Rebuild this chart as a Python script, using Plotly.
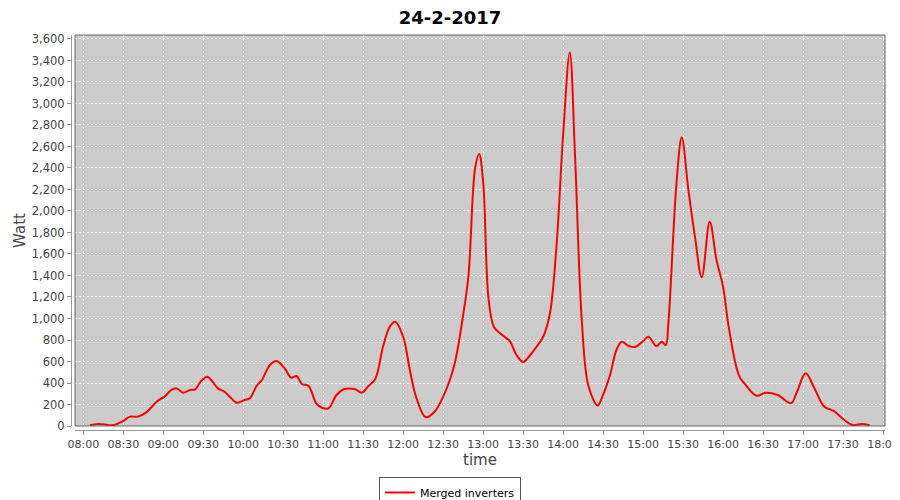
import plotly.graph_objects as go

title_text = "24-2-2017"
series_name = "Merged inverters"

times = [
    "08:05", "08:11", "08:15", "08:22", "08:29", "08:35", "08:41", "08:47", "08:56",
    "09:01", "09:06", "09:10", "09:15", "09:20", "09:24", "09:28", "09:33", "09:37",
    "09:41", "09:46", "09:51", "09:55", "10:01", "10:05", "10:10", "10:14", "10:20",
    "10:25", "10:31", "10:36", "10:40", "10:44", "10:49", "10:55", "10:59", "11:04",
    "11:10", "11:16", "11:24", "11:29", "11:34", "11:39", "11:45", "11:50", "11:54",
    "12:00", "12:05", "12:10", "12:17", "12:24", "12:30", "12:35", "12:39", "12:45",
    "12:49", "12:54", "12:57", "13:00", "13:04", "13:08", "13:12", "13:16", "13:20",
    "13:25", "13:30", "13:34", "13:40", "13:45", "13:50", "13:55", "14:00", "14:05",
    "14:09", "14:14", "14:19", "14:26", "14:29", "14:35", "14:40", "14:44", "14:49",
    "14:54", "15:00", "15:04", "15:10", "15:14", "15:17", "15:19", "15:25", "15:29",
    "15:34", "15:39", "15:44", "15:50", "15:55", "16:00", "16:04", "16:10", "16:13",
    "16:16", "16:25", "16:32", "16:41", "16:51", "16:55", "17:02", "17:08", "17:16",
    "17:23", "17:31", "17:37", "17:44", "17:50",
]
watts = [
    6, 19, 16, 7, 40, 87, 87, 124, 236,
    273, 335, 350, 310, 335, 341, 412, 459, 412,
    350, 319, 258, 217, 242, 258, 372, 428, 567,
    604, 537, 449, 465, 391, 372, 205, 170, 164,
    288, 344, 341, 310, 372, 434, 744, 924, 970,
    830, 521, 258, 81, 140, 273, 428, 598, 1032,
    1400, 2400, 2530, 2272, 1190, 923, 870, 830, 790,
    660, 595, 640, 737, 830, 1040, 1668, 2706, 3475,
    2495, 986, 372, 190, 260, 465, 707, 784, 745,
    735, 790, 830, 744, 784, 753, 960, 2250, 2685,
    2195, 1755, 1383, 1900, 1550, 1296, 940, 546, 443,
    397, 282, 310, 288, 211, 304, 490, 366, 180,
    140, 56, 9, 19, 7,
]

date_prefix = "2017-02-24 "
x_vals = [date_prefix + t for t in times]

fig = go.Figure()
fig.add_trace(go.Scatter(
    x=x_vals, y=watts, mode="lines", name=series_name,
    line=dict(color="#ff0000", width=2, shape="spline", smoothing=1.0),
    showlegend=True,
))

# the page body adds an 8px offset, so the figure is 892x492
fig_w, fig_h = 892, 492
m_l, m_r, m_t, m_b = 63, 15, 27, 70
paper_w = float(fig_w - m_l - m_r)
paper_h = float(fig_h - m_t - m_b)
gap = 4.0
grid_col = "rgba(255,255,255,0.8)"

fig.update_layout(
    width=fig_w, height=fig_h,
    margin=dict(l=m_l, r=m_r, t=m_t, b=m_b, autoexpand=False),
    paper_bgcolor="white",
    plot_bgcolor="#cccccc",
    font=dict(family="DejaVu Sans", size=12, color="#444444"),
    title=dict(text="<b>" + title_text + "</b>", x=(450 - 8) / fig_w, xref="container",
               xanchor="center", y=1.0, yanchor="top", pad=dict(t=3),
               font=dict(family="DejaVu Sans", size=18, color="#000000")),
    xaxis=dict(
        type="date",
        domain=[gap / paper_w, 1],
        anchor="free", position=0,
        range=[date_prefix + "07:53:47", date_prefix + "18:01:30"],
        tick0=date_prefix + "08:00", dtick=30 * 60 * 1000,
        tickformat="%H:%M",
        ticklabeloverflow="allow",
        showline=True, linecolor="#999999", linewidth=1,
        ticks="outside", ticklen=4, tickcolor="#999999",
        showgrid=True, gridcolor=grid_col, griddash="2px,2px", gridwidth=1,
        zeroline=False, automargin=False,
        tickfont=dict(family="DejaVu Sans", size=11, color="#444444"),
        title=dict(text="time", standoff=4,
                   font=dict(family="DejaVu Sans", size=15, color="#444444")),
    ),
    yaxis=dict(
        domain=[gap / paper_h, 1],
        anchor="free", position=0,
        range=[0, 3637],
        tick0=0, dtick=200, tickformat=",d",
        showline=True, linecolor="#999999", linewidth=1,
        ticks="outside", ticklen=4, tickcolor="#999999",
        showgrid=True, gridcolor=grid_col, griddash="2px,2px", gridwidth=1,
        zeroline=False, automargin=False,
        tickfont=dict(family="DejaVu Sans", size=11.5, color="#444444"),
        title=dict(text="Watt", standoff=1,
                   font=dict(family="DejaVu Sans", size=15, color="#444444")),
    ),
    legend=dict(
        orientation="h", x=(450 - 8 - m_l) / paper_w, xanchor="center",
        y=-(477 - 430) / paper_h, yanchor="top",
        bordercolor="#555555", borderwidth=1, bgcolor="white",
        font=dict(family="DejaVu Sans", size=11, color="#000000"),
        itemwidth=30,
    ),
    shapes=[dict(type="rect", xref="x domain", yref="y domain",
                 x0=0, x1=1, y0=0, y1=1,
                 line=dict(color="#666666", width=1), layer="above")],
)

fig.write_html("out.html")
